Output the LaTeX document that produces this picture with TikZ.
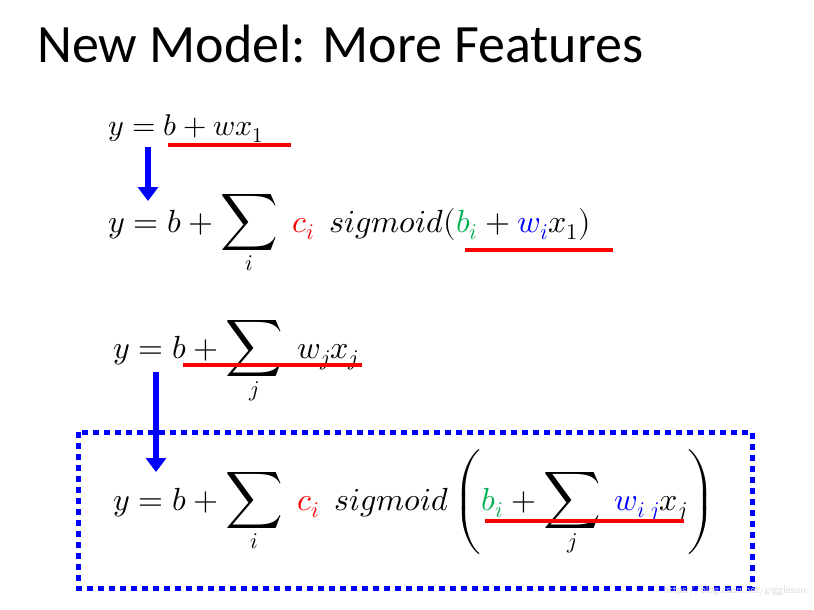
\documentclass[tikz,border=0pt]{standalone}
\usepackage{fontspec}
\usepackage{amsmath}
\usepackage{unicode-math}
\usetikzlibrary{arrows.meta}
\setmainfont{Carlito}
\setmathfont{Latin Modern Math}
\definecolor{tgreen}{HTML}{00B050}
\definecolor{tblue}{HTML}{0000FF}
\definecolor{tred}{HTML}{FF0000}
\newcommand{\bigsum}[1]{\mathop{\scalebox{1.25}{$\displaystyle\sum$}}\limits_{#1}}
\begin{document}
\begin{tikzpicture}[x=1pt,y=-1pt,
  eq/.style={anchor=base west,inner sep=0pt,font=\fontsize{32}{38}\selectfont},
  ul/.style={tred,line width=4pt},
  barrow/.style={tblue,line width=6pt,-{Triangle[length=14pt,width=20pt]}}]
\useasboundingbox (0,0) rectangle (814,610);
\node[anchor=base west,inner sep=0pt,font=\fontsize{54}{60}\selectfont] (title) at (37,63) {New Model: More Features};
\node[eq,font=\fontsize{30}{36}\selectfont] (e1) at (108,135) {$y=b+wx_1$};
\node[eq] (e2) at (108,232) {$\displaystyle y=b+\bigsum{i}\;\textcolor{tred}{c_i}\;\, sigmoid(\textcolor{tgreen}{b_i}+\textcolor{tblue}{w_i}x_1)$};
\node[eq] (e3) at (113,358) {$\displaystyle y=b+\bigsum{j}\;w_jx_j$};
\node[eq] (e4) at (113,510) {$\displaystyle y=b+\bigsum{i}\;\textcolor{tred}{c_i}\;\, sigmoid\left(\textcolor{tgreen}{b_i}+\bigsum{j}\;\textcolor{tblue}{w_{i\,j}}x_j\right)$};
\coordinate (u1a) at (168,145); \coordinate (u1b) at (291,145);
\coordinate (u2a) at (465,250); \coordinate (u2b) at (613,250);
\coordinate (u3a) at (183,365); \coordinate (u3b) at (362,365);
\coordinate (u4a) at (485,521); \coordinate (u4b) at (684,521);
\draw[ul] (u1a) -- (u1b);
\draw[ul] (u2a) -- (u2b);
\draw[ul] (u3a) -- (u3b);
\draw[ul] (u4a) -- (u4b);
\coordinate (a1s) at (148,147); \coordinate (a1e) at (148,201);
\coordinate (a2s) at (156,372); \coordinate (a2e) at (156,472);
\draw[barrow] (a1s) -- (a1e);
\draw[barrow] (a2s) -- (a2e);
\draw[tblue,line width=5pt,dash pattern=on 6pt off 5pt] (78,432) rectangle (752,588);
\node[anchor=base east,inner sep=0pt,text=black!15,font=\fontsize{11}{13}\selectfont\sffamily] (wm) at (806,593) {https://blog.csdn.net/gigglesun};
\end{tikzpicture}
\end{document}
